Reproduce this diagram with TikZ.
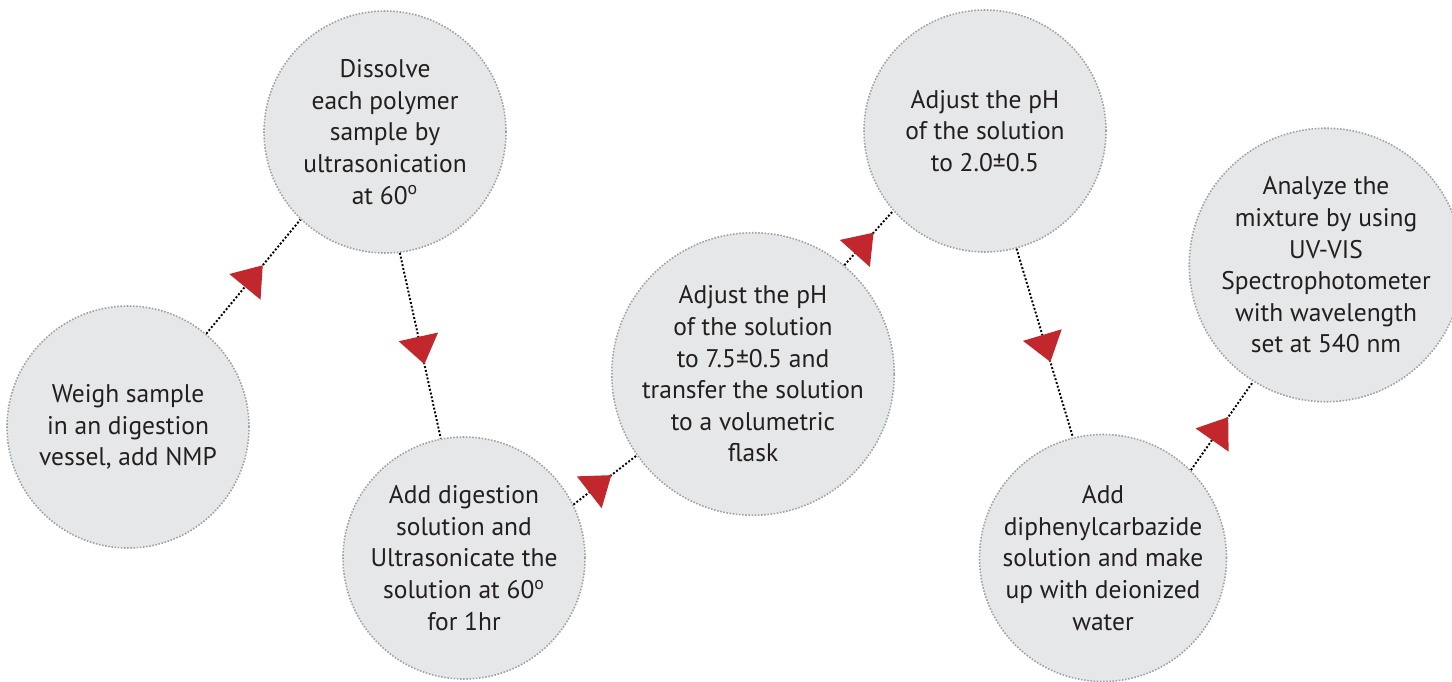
\documentclass[tikz,border=0pt]{standalone}
\usepackage{fontspec}
\setmainfont{PT Sans}
\usetikzlibrary{arrows.meta}
\usetikzlibrary{decorations.markings}

\definecolor{discfill}{RGB}{230,231,232}
\definecolor{discline}{RGB}{160,162,165}
\definecolor{arrowred}{RGB}{193,39,45}
\definecolor{inktext}{RGB}{35,31,32}

\tikzset{
    stepcircle/.style={circle, minimum size=4.84cm, inner sep=0pt,
        fill=discfill, draw=discline, line width=0.9pt,
        dash pattern=on 0.9pt off 0.9pt,
        align=center, text=inktext, font=\fontsize{14.5}{18}\selectfont},
    flow/.style={black, line width=1.1pt, dash pattern=on 1.1pt off 1.1pt,
        postaction={decorate},
        decoration={markings, mark=at position 0.6 with
            {\arrow[arrowred]{Triangle[length=0.56cm, width=0.8cm]}}}}
}

\begin{document}
\begin{tikzpicture}
    \useasboundingbox (0,0) rectangle (29.04,-13.62);

    % process steps
    \node[stepcircle] (weigh)    at (2.56,-8.54)  {Weigh sample\\in an digestion\\vessel, add NMP};
    \node[stepcircle] (dissolve) at (7.70,-2.64)  {Dissolve\\each polymer\\sample by\\ultrasonication\\at 60\textsuperscript{o}};
    \node[stepcircle] (digest)   at (9.28,-11.16) {Add digestion\\solution and\\Ultrasonicate the\\solution at 60\textsuperscript{o}\\for 1hr};
    \node[stepcircle] (phseven)  at (15.06,-7.48) {Adjust the pH\\of the solution\\to 7.5\textpm0.5 and\\transfer the solution\\to a volumetric\\flask};
    \node[stepcircle] (phtwo)    at (19.70,-2.62) {Adjust the pH\\of the solution\\to 2.0\textpm0.5};
    \node[stepcircle] (reagent)  at (22.06,-11.16) {Add\\diphenylcarbazide\\solution and make\\up with deionized\\water};
    \node[stepcircle] (analyze)  at (26.52,-5.30) {Analyze the\\mixture by using\\UV-VIS\\Spectrophotometer\\with wavelength\\set at 540 nm};

    % connectors
    \foreach \from/\a/\to/\b in {weigh/50/dissolve/226, dissolve/-83/digest/101,
        digest/26/phseven/215, phseven/50/phtwo/221, phtwo/-75/reagent/104,
        reagent/45/analyze/238}
	\draw[flow] (\from.\a) -- (\to.\b);
\end{tikzpicture}
\end{document}
